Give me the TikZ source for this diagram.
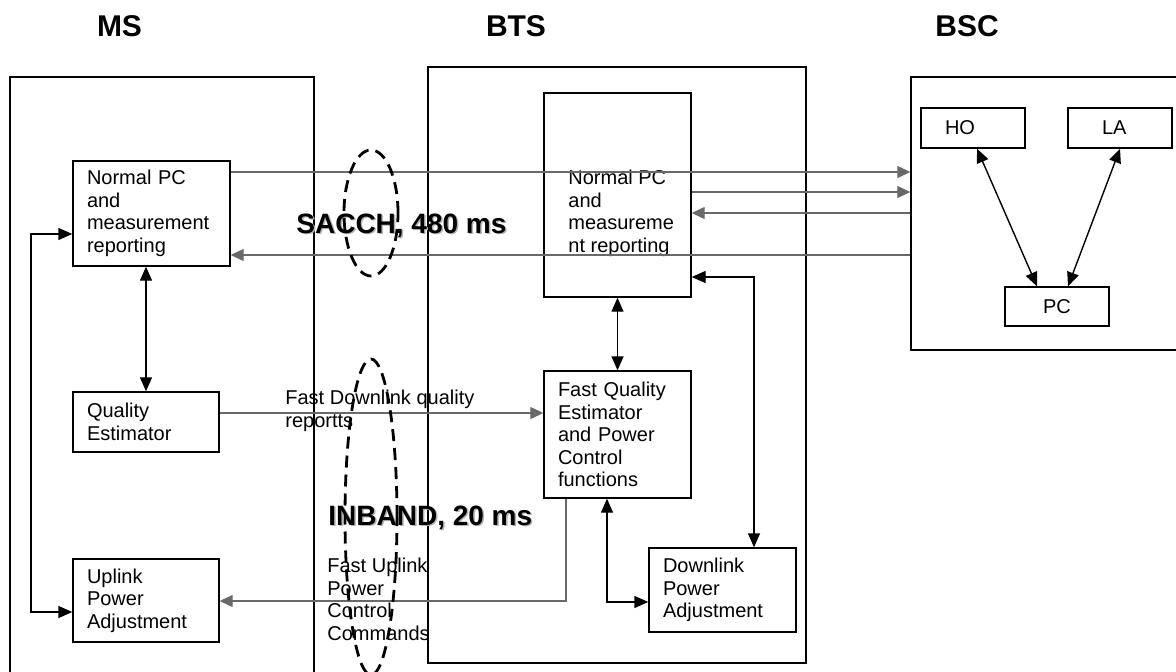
\documentclass[tikz,border=0pt]{standalone}
\usepackage{fontspec}
\setmainfont{Liberation Sans}
\usetikzlibrary{arrows.meta}
\definecolor{pcgray}{RGB}{105,105,105}
\tikzset{
  pcframe/.style={draw, line width=0.7pt, inner sep=0pt},
  pcbox/.style={draw, line width=0.7pt, align=left, inner xsep=7pt, inner ysep=0pt,
                font=\fontsize{10}{11.25}\selectfont},
  pctxt/.style={align=left, inner sep=0pt, font=\fontsize{10}{11.25}\selectfont},
  pchead/.style={font=\bfseries\fontsize{15}{18}\selectfont, inner sep=0pt},
  pcbig/.style={font=\bfseries\fontsize{14}{17}\selectfont, inner sep=0pt, anchor=base west},
  pcar/.style={{Triangle[length=7pt,width=6pt]}-{Triangle[length=7pt,width=6pt]}, line width=0.7pt},
  pcgar/.style={-{Triangle[length=6.5pt,width=6pt]}, line width=0.6pt, draw=pcgray},
  pcoval/.style={dash pattern=on 6pt off 3.5pt, line width=1.4pt},
}

\begin{document}
\begin{tikzpicture}[x=0.5pt, y=-0.5pt]
  \useasboundingbox (0,0) rectangle (1176,671);
  \clip (0,0) rectangle (1176,671);

  \node[pchead] (mshead) at (119.5,26) {MS};
  \node[pchead] (btshead) at (516,26) {BTS};
  \node[pchead] (bschead) at (967,26) {BSC};

  \node[pcframe, minimum width=152pt, minimum height=311.5pt] (ms) at (162,388.5) {};
  \node[pcframe, minimum width=189pt, minimum height=298pt] (bts) at (617,365) {};
  \node[pcframe, minimum width=139.5pt, minimum height=136.5pt] (bsc) at (1050.5,213.5) {};

  \node[pcbox, text width=64.5pt, minimum height=52.5pt] (msnpc) at (151.5,213.5)
    {Normal PC\\and\\measurement\\reporting};
  \node[pcbox, text width=59pt, minimum height=30pt] (qe) at (146,422) {Quality\\Estimator};
  \node[pcbox, text width=59pt, minimum height=41.5pt] (upa) at (146,600.5) {Uplink\\Power\\Adjustment};

  \node[pcbox, text width=59.5pt, minimum height=102pt] (btsnpc) at (617.5,195) {};
  \node[pctxt, anchor=north west] (btsnpctxt) at (568,170) {Normal PC\\and\\measureme\\nt reporting};
  \node[pcbox, text width=59.5pt, minimum height=63.5pt] (fqe) at (617.5,434.5)
    {Fast Quality\\Estimator\\and Power\\Control\\functions};
  \node[pcbox, text width=59.5pt, minimum height=42pt] (dpa) at (722.5,590) {Downlink\\Power\\Adjustment};

  \node[pcbox, inner xsep=12pt, text width=28pt, minimum height=20pt] (ho) at (973,128) {HO};
  \node[pcbox, inner xsep=17pt, text width=18pt, minimum height=20pt] (la) at (1120,128) {LA};
  \node[pcbox, align=center, text width=38pt, minimum height=19.5pt] (pc) at (1057,306.5) {PC};

  \coordinate (ya) at (0,172);
  \coordinate (yb) at (0,192);
  \coordinate (yc) at (0,213);
  \coordinate (yd) at (0,255);
  \coordinate (ye) at (0,234);
  \coordinate (yf) at (0,612);
  \coordinate (yg) at (0,413);
  \coordinate (yh) at (0,601);
  \coordinate (yi) at (0,277);
  \coordinate (yj) at (0,602);
  \coordinate (xl) at (31,0);
  \coordinate (xr) at (754,0);
  \coordinate (xq) at (607,0);
  \coordinate (xu) at (566,0);

  \draw[pcgar] (msnpc.east |- ya) -- (bsc.west |- ya);
  \draw[pcgar] (btsnpc.east |- yb) -- (bsc.west |- yb);
  \draw[pcgar] (bsc.west |- yc) -- (btsnpc.east |- yc);
  \draw[pcgar] (bsc.west |- yd) -- (msnpc.east |- yd);
  \draw[pcgar] (qe.east |- yg) -- (fqe.west |- yg);
  \draw[pcgar] (fqe.south -| xu) -- (xu |- yh) -- (upa.east |- yh);

  \draw[pcar] (qe.north |- msnpc.south) -- (qe.north);
  \draw[pcar] (msnpc.west |- ye) -- (xl |- ye) -- (xl |- yf) -- (upa.west |- yf);
  \draw[pcar] (btsnpc.south) -- (fqe.north);
  \draw[pcar] (btsnpc.east |- yi) -- (xr |- yi) -- (xr |- dpa.north);
  \draw[pcar] (fqe.south -| xq) -- (xq |- yj) -- (dpa.west |- yj);
  \draw[pcar] ([xshift=2pt]ho.south) -- ([xshift=-10pt]pc.north);
  \draw[pcar] (la.south) -- ([xshift=5.5pt]pc.north);

  \node[pctxt, anchor=north west] (fdqlab) at (285,390) {Fast Downlink quality\\reportts};
  \node[pctxt, anchor=north west] (fupclab) at (327,558) {Fast Uplink\\Power\\Control\\Commands};

  \node[pcbig, text=black!30] at (297.5,234.5) {SACCH, 480 ms};
  \node[pcbig] (sacch) at (296,233) {SACCH, 480 ms};
  \node[pcbig, text=black!30] at (329.5,526.5) {INBAND, 20 ms};
  \node[pcbig] (inband) at (328,525) {INBAND, 20 ms};

  \draw[pcoval] (371,213) ellipse [x radius=13.5pt, y radius=31.5pt];
  \draw[pcoval] (371,517) ellipse [x radius=13pt, y radius=79pt];
\end{tikzpicture}
\end{document}
